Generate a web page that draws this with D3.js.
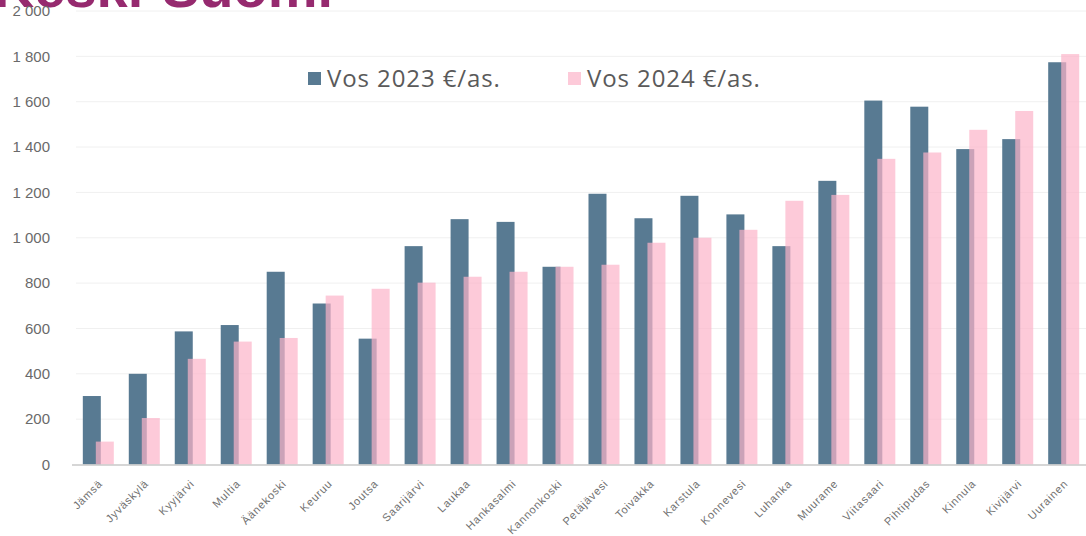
<!DOCTYPE html>
<html>
<head>
<meta charset="utf-8">
<script src="https://cdn.jsdelivr.net/npm/d3@7"></script>
<style>
  body { margin: 0; background: #fff; }
  svg { display: block; font-family: "Open Sans", "Noto Sans", sans-serif; }
</style>
</head>
<body>
<div id="chart"></div>
<script>
// kunnat ja arvot (€/as.)
var kunnat = ["Jämsä", "Jyväskylä", "Kyyjärvi", "Multia", "Äänekoski", "Keuruu", "Joutsa",
    "Saarijärvi", "Laukaa", "Hankasalmi", "Kannonkoski", "Petäjävesi", "Toivakka", "Karstula",
    "Konnevesi", "Luhanka", "Muurame", "Viitasaari", "Pihtipudas", "Kinnula", "Kivijärvi", "Uurainen"];
var vos2023 = [302, 400, 587, 615, 850, 710, 555, 963, 1082, 1070, 872, 1194, 1086, 1185,
    1103, 963, 1251, 1605, 1578, 1391, 1435, 1774];
var vos2024 = [101, 205, 466, 542, 558, 745, 775, 802, 828, 850, 872, 881, 978, 1000,
    1035, 1163, 1189, 1348, 1376, 1476, 1559, 1810];
var series = ["Vos 2023 €/as.", "Vos 2024 €/as."];
var yTicks = [0, 200, 400, 600, 800, 1000, 1200, 1400, 1600, 1800, 2000];
var title = "Keski-Suomi";

var W = 1086, H = 536;
var colors = { "Vos 2023 €/as.": "#587a92", "Vos 2024 €/as.": "#fcb3c9" };

var svg = d3.select("#chart").append("svg")
    .attr("width", W)
    .attr("height", H);

var x0 = d3.scaleBand()
    .domain(kunnat)
    .range([75, 1087])
    .paddingInner(0.326)
    .paddingOuter(0.17);

var x1 = d3.scaleBand()
    .domain(series)
    .range([0, 26]);

var barW = 18;

var y = d3.scaleLinear()
    .domain([0, 2000])
    .range([464.5, 11]);

// otsikko (leikkautunut yläreunasta)
svg.append("text")
    .attr("x", 333)
    .attr("y", 7)
    .attr("text-anchor", "end")
    .attr("fill", "#962a6f")
    .style("font-family", "'Liberation Sans', Arial, sans-serif")
    .style("font-weight", "bold")
    .style("font-size", "56px")
    .text(title);

// ruudukko
svg.append("g")
    .selectAll("line")
    .data(yTicks.slice(1))
    .join("line")
    .attr("x1", 76)
    .attr("x2", W)
    .attr("y1", function (d) { return y(d); })
    .attr("y2", function (d) { return y(d); })
    .attr("stroke", "#f0f0f0")
    .attr("stroke-width", 1);

// y-akseli
var yAxis = svg.append("g")
    .attr("transform", "translate(57,0)")
    .call(d3.axisLeft(y)
        .tickValues(yTicks)
        .tickSize(0)
        .tickFormat(function (d) { return d3.format(",")(d).replace(",", " "); }));
yAxis.select(".domain").remove();
yAxis.selectAll("text")
    .attr("fill", "#6a6a6a")
    .style("font-size", "15px")
    .attr("dx", "-4");

// palkit
var rows = kunnat.map(function (k, i) {
    return { kunta: k, vals: [
        { s: series[0], v: vos2023[i] },
        { s: series[1], v: vos2024[i] }
    ] };
});

svg.append("g")
    .selectAll("g")
    .data(rows)
    .join("g")
    .attr("transform", function (d) { return "translate(" + x0(d.kunta) + ",0)"; })
    .selectAll("rect")
    .data(function (d) { return d.vals; })
    .join("rect")
    .attr("x", function (d) { return x1(d.s); })
    .attr("width", barW)
    .attr("y", function (d) { return y(d.v); })
    .attr("height", function (d) { return y(0) - y(d.v); })
    .attr("fill", function (d) { return colors[d.s]; })
    .attr("fill-opacity", function (d) { return d.s === series[1] ? 0.7 : 1; });

// x-akseli
var xAxis = svg.append("g")
    .attr("transform", "translate(0," + y(0) + ")")
    .call(d3.axisBottom(x0).tickSize(0).tickSizeOuter(0));
xAxis.select(".domain")
    .attr("d", "M72,0.5H" + W)
    .attr("stroke", "#c8c8c8")
    .attr("stroke-width", 1.5);
xAxis.selectAll("text")
    .attr("fill", "#707070")
    .style("font-size", "11px")
    .style("letter-spacing", "0.8px")
    .attr("text-anchor", "end")
    .attr("dy", "0.35em")
    .attr("transform", "translate(0,15) rotate(-45)");

// selite
var legend = svg.append("g")
    .selectAll("g")
    .data(series)
    .join("g")
    .attr("transform", function (d, i) { return "translate(" + (308 + i * 260) + ",72)"; });
legend.append("rect")
    .attr("width", 13)
    .attr("height", 13)
    .attr("fill", function (d) { return colors[d]; })
    .attr("fill-opacity", function (d, i) { return i === 1 ? 0.7 : 1; });
legend.append("text")
    .attr("x", 19)
    .attr("y", 15)
    .attr("fill", "#5a5a5a")
    .style("font-size", "24px")
    .style("letter-spacing", "0.9px")
    .text(function (d) { return d; });
</script>
</body>
</html>
